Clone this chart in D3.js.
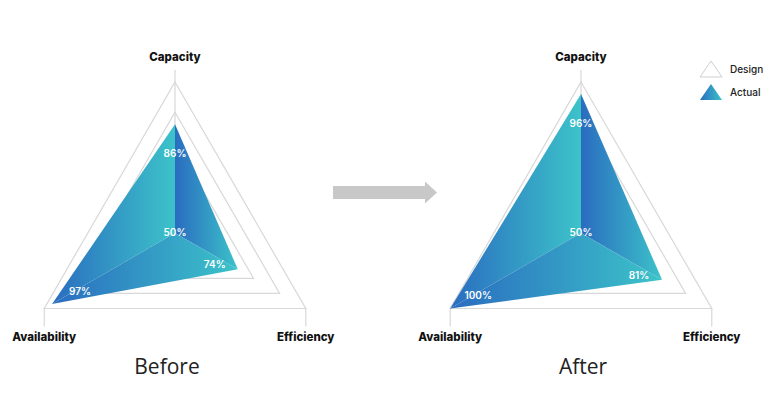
<!DOCTYPE html>
<html><head><meta charset="utf-8">
<script src="https://cdn.jsdelivr.net/npm/d3@7"></script>
<style>html,body{margin:0;padding:0;background:#fff;}svg{display:block;}</style>
</head><body>
<svg id="c" width="774" height="393"></svg>
<script>
// ---- data ----
const axes = ["Capacity", "Efficiency", "Availability"];
const beforeValues = [86, 74, 97];
const afterValues = [96, 81, 100];
const centerValue = 50;
const gridLevels = [60, 70, 80, 90, 100];
const panelTitles = ["Before", "After"];
const legendItems = ["Design", "Actual"];

const svg = d3.select("#c");
const R = 151;
const r = d3.scaleLinear().domain([50, 100]).range([0, R]);
function ang(a){ return (-90 + axes.indexOf(a) * 120) * Math.PI / 180; }
function pt(a, v){ return [Math.cos(ang(a)) * r(v), Math.sin(ang(a)) * r(v)]; }

const defs = svg.append("defs");
const grad = defs.append("linearGradient").attr("id", "g").attr("x1", 0).attr("x2", 1).attr("y1", 0).attr("y2", 0);
grad.append("stop").attr("offset", "0%").attr("stop-color", "#2a6cc0");
grad.append("stop").attr("offset", "100%").attr("stop-color", "#3cc3c9");

const gridColor = "#d8d8d8";
const labelOffsets = {Capacity: [0, 30], Efficiency: [-23, -4], Availability: [28, -12]};

function drawPanel(cx, cy, values, title, titleDx) {
  const g = svg.append("g").attr("transform", `translate(${cx},${cy})`);
  const line = d3.line();
  g.selectAll("path.grid").data(gridLevels).join("path")
    .attr("d", lv => line(axes.map(a => pt(a, lv))) + "Z")
    .attr("fill", "none").attr("stroke", gridColor).attr("stroke-width", 1.2);
  g.append("line").attr("x1", 0).attr("y1", 0).attr("x2", 0).attr("y2", -r(100) - 12)
    .attr("stroke", gridColor).attr("stroke-width", 1.2);
  ["Efficiency", "Availability"].forEach(a => {
    const p = pt(a, 100);
    g.append("line").attr("x1", p[0]).attr("y1", p[1]).attr("x2", p[0]).attr("y2", p[1] + 18)
      .attr("stroke", gridColor).attr("stroke-width", 1.2);
  });
  const pairs = [[0, 2], [0, 1], [2, 1]];
  g.selectAll("path.act").data(pairs).join("path")
    .attr("d", pr => line([[0, 0], pt(axes[pr[0]], values[pr[0]]), pt(axes[pr[1]], values[pr[1]])]) + "Z")
    .attr("fill", "url(#g)");
  g.selectAll("text.val").data(axes).join("text")
    .attr("x", (a, i) => pt(a, values[i])[0] + labelOffsets[a][0])
    .attr("y", (a, i) => pt(a, values[i])[1] + labelOffsets[a][1])
    .attr("text-anchor", "middle").attr("dominant-baseline", "middle")
    .attr("fill", "#fff").attr("font-family", "Inter, 'Open Sans', sans-serif")
    .attr("font-size", 10).attr("font-weight", 600)
    .text((a, i) => values[i] + "%");
  g.append("text").attr("x", 0).attr("y", 0)
    .attr("text-anchor", "middle").attr("dominant-baseline", "middle")
    .attr("fill", "#fff").attr("font-family", "Inter, 'Open Sans', sans-serif")
    .attr("font-size", 10).attr("font-weight", 600).text(centerValue + "%");
  g.selectAll("text.ax").data(axes).join("text")
    .attr("x", a => pt(a, 100)[0])
    .attr("y", a => a === "Capacity" ? pt(a, 100)[1] - 21 : pt(a, 100)[1] + 32)
    .attr("text-anchor", "middle")
    .attr("font-family", "Inter, Roboto, sans-serif").attr("font-weight", 800)
    .attr("font-size", 11.5).attr("fill", "#111").text(a => a);
  g.append("text").attr("x", titleDx).attr("y", 141).attr("text-anchor", "middle")
    .attr("font-family", "'Open Sans', 'Liberation Sans', sans-serif")
    .attr("font-size", 21).attr("fill", "#222").text(title);
}

drawPanel(175, 233, beforeValues, panelTitles[0], -8);
drawPanel(581, 233, afterValues, panelTitles[1], 2);

// arrow
svg.append("path")
  .attr("d", "M333,186 L425,186 L425,181.5 L437,192.5 L425,203.5 L425,199 L333,199 Z")
  .attr("fill", "#c8c8c8");

// legend
const lg = svg.append("g").attr("transform", "translate(700,61)");
lg.selectAll("path.li").data(legendItems).join("path")
  .attr("d", (d, i) => `M11,${i * 23} L22,${i * 23 + 16} L0,${i * 23 + 16} Z`)
  .attr("fill", (d, i) => i === 0 ? "#fff" : "url(#g)")
  .attr("stroke", (d, i) => i === 0 ? "#cfcfcf" : "none").attr("stroke-width", 1);
lg.selectAll("text.lt").data(legendItems).join("text")
  .attr("x", 30).attr("y", (d, i) => i * 23 + 11.5)
  .attr("font-family", "Inter, Roboto, sans-serif").attr("font-size", 10).attr("font-weight", 500)
  .attr("fill", "#222").text(d => d);
</script>
</body></html>
